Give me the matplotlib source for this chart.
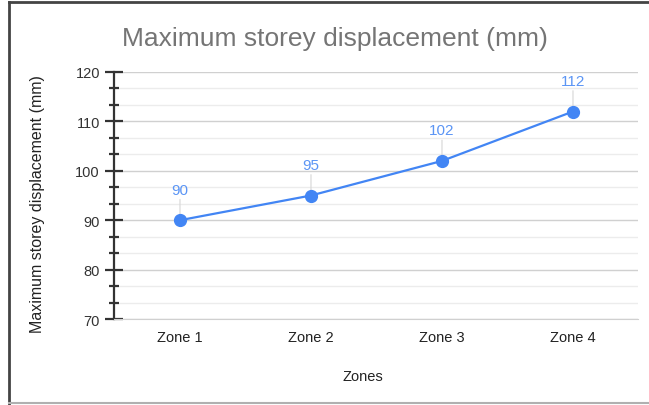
import matplotlib
matplotlib.use("Agg")
import matplotlib.pyplot as plt
from matplotlib.lines import Line2D
from matplotlib.ticker import AutoMinorLocator

zones = ["Zone 1", "Zone 2", "Zone 3", "Zone 4"]
displacement = [90, 95, 102, 112]
y_ticks = [70, 80, 90, 100, 110, 120]

plt.rcParams["font.family"] = ["Liberation Sans", "DejaVu Sans"]

fig = plt.figure(figsize=(6.49, 4.06), dpi=100)
ax = fig.add_axes([0.1764, 0.2118, 0.8074, 0.6084])

blue = "#4285F4"
x = list(range(len(zones)))
ax.plot(x, displacement, color=blue, lw=1.6, marker="o", ms=8.5, zorder=4, clip_on=False)

# value labels with thin leader lines
for xi, v in zip(x, displacement):
    ax.annotate("", xy=(xi, v), xytext=(0, 15), textcoords="offset points",
                arrowprops=dict(arrowstyle="-", color="#d6d6d6", lw=0.8,
                                shrinkA=0, shrinkB=4), zorder=3)
    ax.annotate(str(v), xy=(xi, v), xytext=(0, 22), textcoords="offset points",
                ha="center", va="center", fontsize=11, color="#5b95f5", zorder=5)

ax.set_xlim(-0.5, len(zones) - 0.5)
ax.set_ylim(y_ticks[0], y_ticks[-1])
ax.set_xticks(x)
ax.set_xticklabels(zones)
ax.set_yticks(y_ticks)
ax.yaxis.set_minor_locator(AutoMinorLocator(3))

ax.grid(which="major", axis="y", color="#d0d0d0", lw=1.0, zorder=0)
ax.grid(which="minor", axis="y", color="#ececec", lw=1.0, zorder=0)
ax.set_axisbelow(True)

for s in ["top", "right"]:
    ax.spines[s].set_visible(False)
ax.spines["bottom"].set_color("#d0d0d0")
ax.spines["left"].set_color("#333333")
ax.spines["left"].set_linewidth(1.6)

ax.tick_params(axis="x", length=0, pad=8, labelsize=10.5, labelcolor="#222222")
ax.tick_params(axis="y", which="major", direction="inout", length=13, width=1.6,
               color="#333333", labelsize=10.5, labelcolor="#333333", pad=4)
ax.tick_params(axis="y", which="minor", direction="inout", length=7, width=1.6,
               color="#333333")

ax.set_xlabel("Zones", fontsize=10.5, color="#222222")
ax.xaxis.set_label_coords(0.474, -0.231)
ax.set_ylabel("Maximum storey displacement (mm)", fontsize=11.5, color="#222222")
ax.yaxis.set_label_coords(-0.146, 0.468)
ax.yaxis.label.set_va("center")
ax.xaxis.label.set_va("center")

fig.text(0.516, 0.905, "Maximum storey displacement (mm)", ha="center", va="center",
         fontsize=19, color="#757575")

# outer frame of the chart card
fig.add_artist(Line2D([0.0131, 0.0131], [0.0, 0.992], transform=fig.transFigure,
                      color="#444444", lw=2.0))
fig.add_artist(Line2D([0.0131, 1.0], [0.992, 0.992], transform=fig.transFigure,
                      color="#444444", lw=2.0))
fig.add_artist(Line2D([0.0131, 1.0], [0.005, 0.005], transform=fig.transFigure,
                      color="#b0b0b0", lw=1.5))

fig.savefig("out.png", dpi=100)
